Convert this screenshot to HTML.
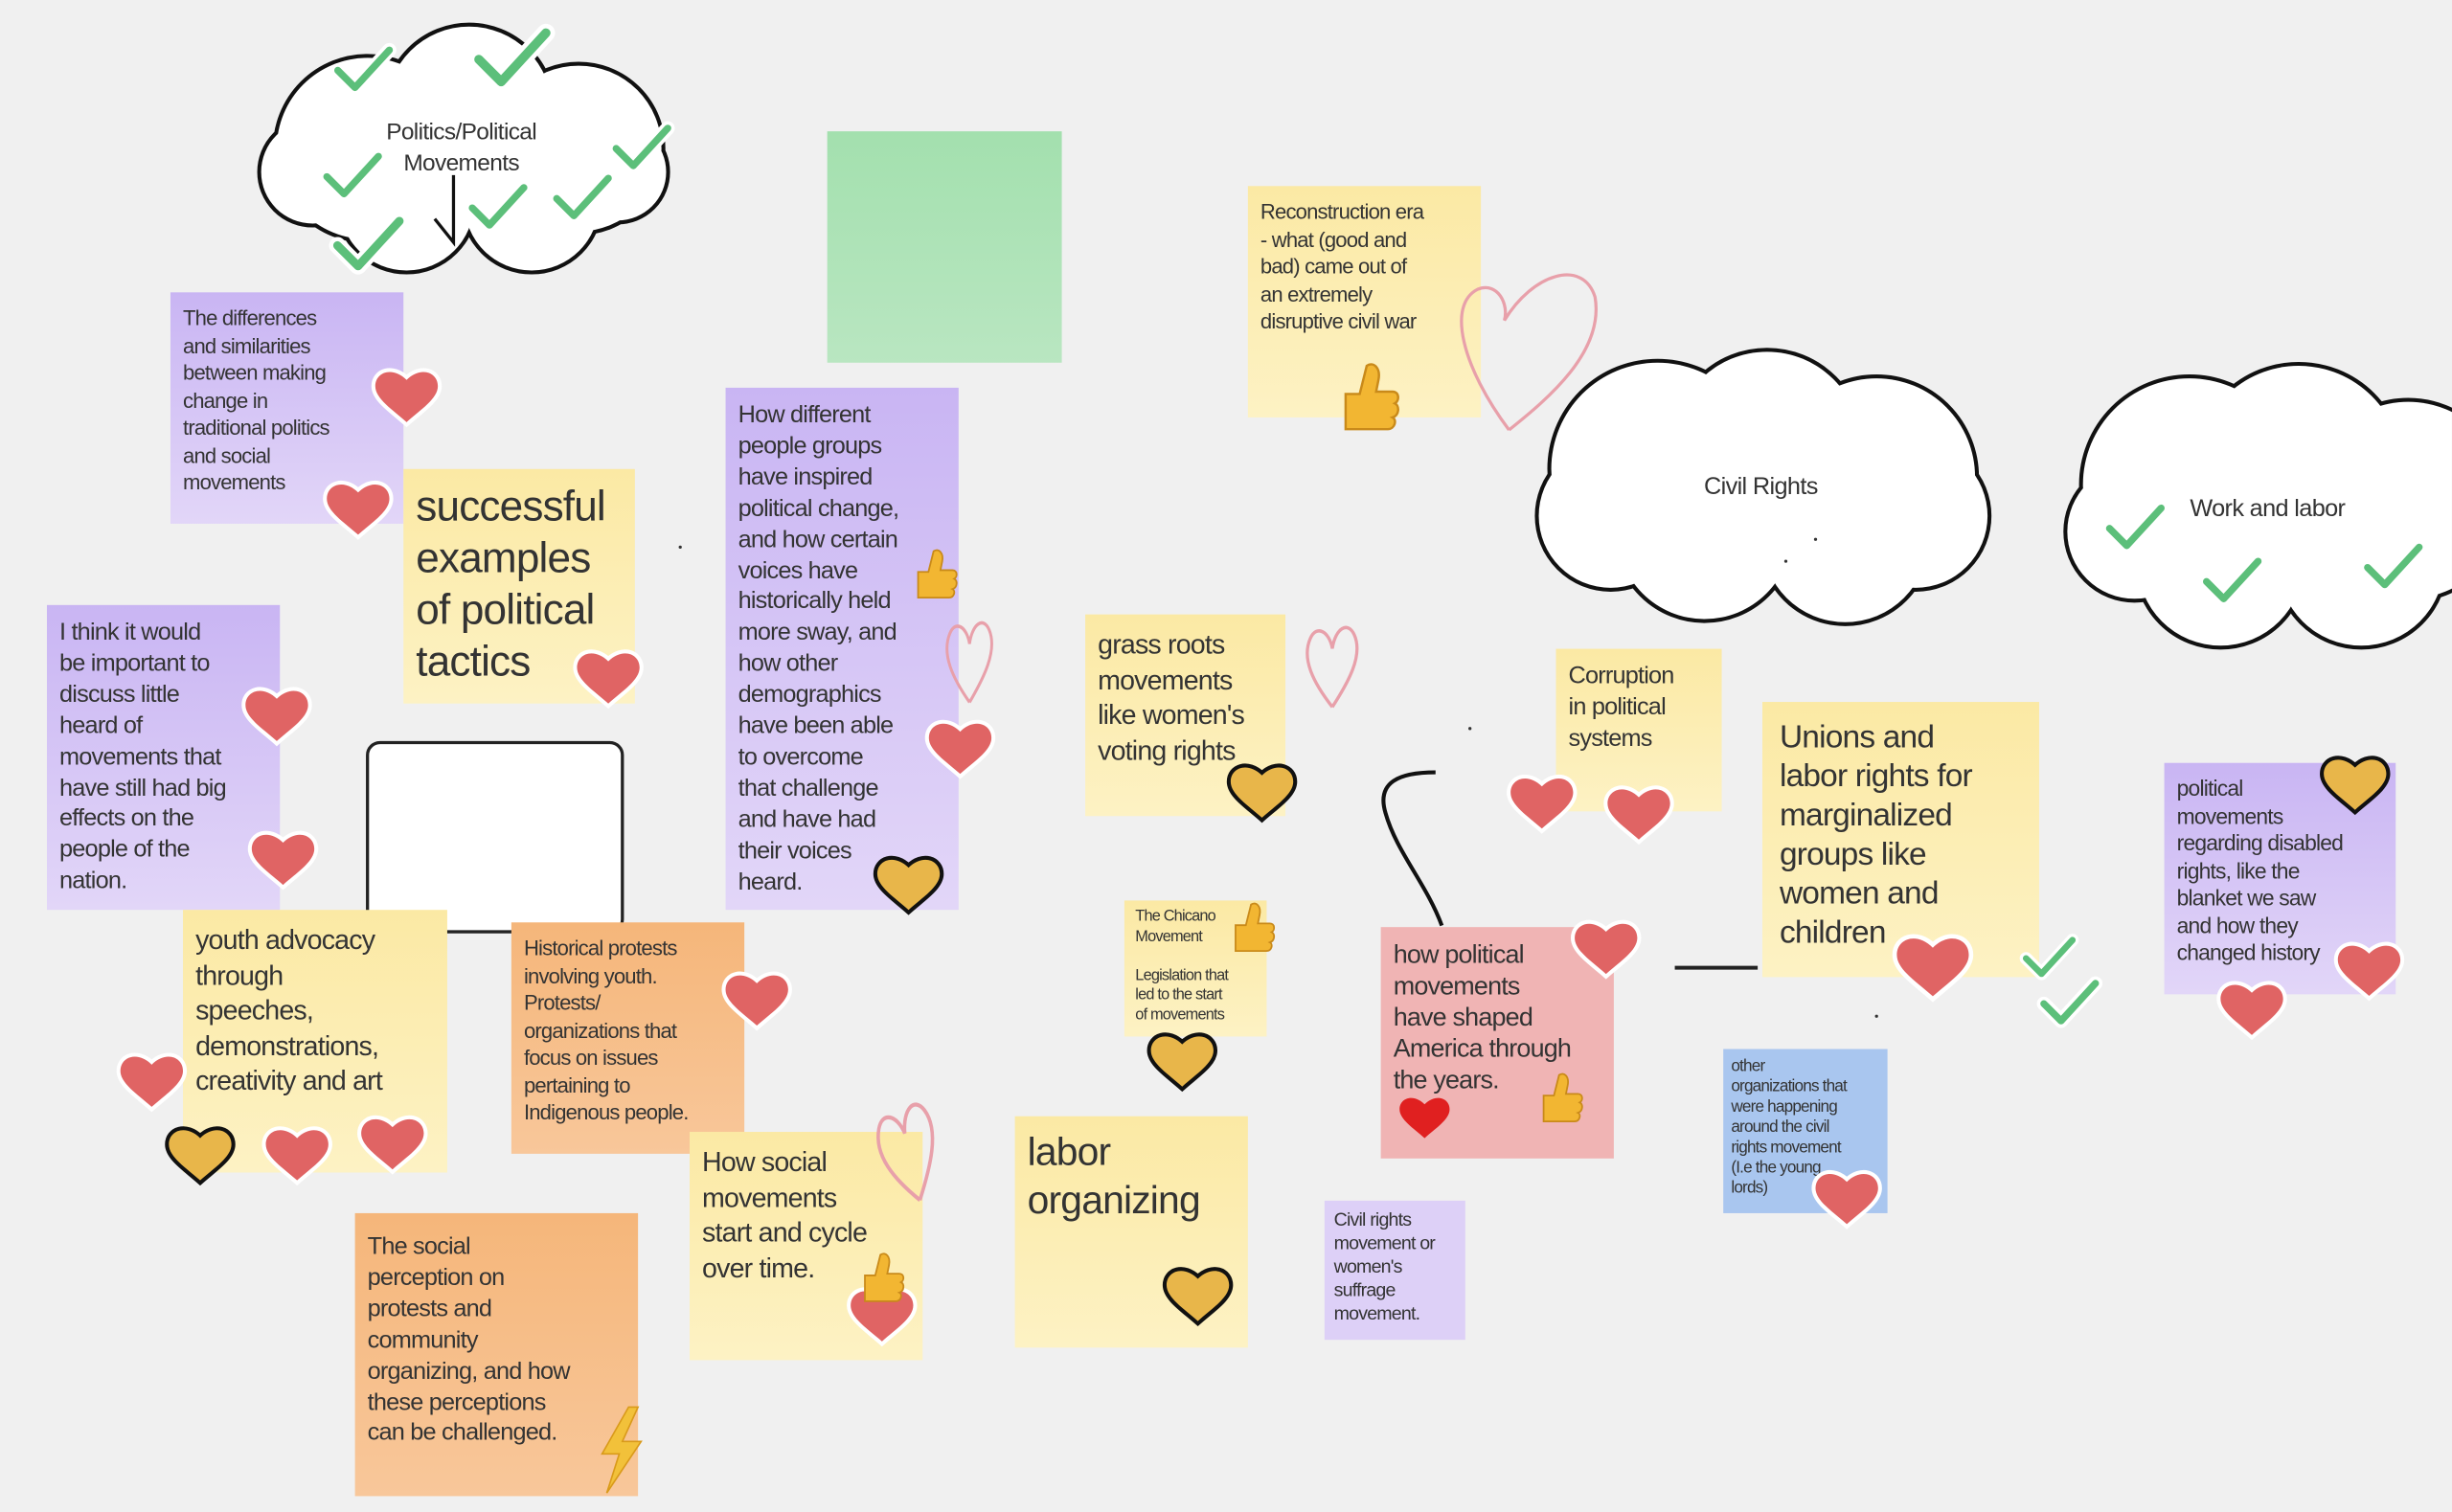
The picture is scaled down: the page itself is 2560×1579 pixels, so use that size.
<!DOCTYPE html>
<html><head><meta charset="utf-8">
<style>
html,body{margin:0;padding:0;background:#f0f0f0;}
#wrap{position:absolute;left:0;top:0;width:1568px;height:967px;transform:scale(1.63265);transform-origin:0 0;overflow:hidden;background:#f0f0f0;font-family:"Liberation Sans","DejaVu Sans",sans-serif;color:#333;}
.n{position:absolute;box-sizing:border-box;padding:8px 8px;letter-spacing:-0.5px;white-space:nowrap;}
.y{background:linear-gradient(#fbe9a4,#fdf2c4);}
.p{background:linear-gradient(#c9b5f3,#e2d6f8);}
.o{background:linear-gradient(#f5b67a,#f8c79a);}
.r{background:#f0b4b4;}
.b{background:#a9c6ef;}
svg{position:absolute;left:0;top:0;}
</style></head><body><div id="wrap">

<div style="position:absolute;left:529px;top:84px;width:150px;height:148px;background:linear-gradient(#a3e0ae,#b9e6c1);"></div>
<div style="position:absolute;left:234px;top:474px;width:165px;height:123px;background:#fff;border:2px solid #222;border-radius:9px;box-sizing:border-box;"></div>

<div class="n y" style="left:798px;top:119px;width:149px;height:148px;font-size:13.5px;line-height:17.5px;">Reconstruction era<br>- what (good and<br>bad) came out of<br>an extremely<br>disruptive civil war</div>
<div class="n p" style="left:109px;top:187px;width:149px;height:148px;font-size:13.5px;line-height:17.5px;">The differences<br>and similarities<br>between making<br>change in<br>traditional politics<br>and social<br>movements</div>
<div class="n y" style="left:258px;top:300px;width:148px;height:150px;font-size:27px;line-height:33px;">successful<br>examples<br>of political<br>tactics</div>
<div class="n p" style="left:464px;top:248px;width:149px;height:334px;font-size:15.5px;line-height:19.9px;">How different<br>people groups<br>have inspired<br>political change,<br>and how certain<br>voices have<br>historically held<br>more sway, and<br>how other<br>demographics<br>have been able<br>to overcome<br>that challenge<br>and have had<br>their voices<br>heard.</div>
<div class="n p" style="left:30px;top:387px;width:149px;height:195px;font-size:15.5px;line-height:19.9px;">I think it would<br>be important to<br>discuss little<br>heard of<br>movements that<br>have still had big<br>effects on the<br>people of the<br>nation.</div>
<div class="n y" style="left:117px;top:582px;width:169px;height:168px;font-size:17.5px;line-height:22.5px;">youth advocacy<br>through<br>speeches,<br>demonstrations,<br>creativity and art</div>
<div class="n o" style="left:327px;top:590px;width:149px;height:148px;font-size:13.5px;line-height:17.5px;">Historical protests<br>involving youth.<br>Protests/<br>organizations that<br>focus on issues<br>pertaining to<br>Indigenous people.</div>
<div class="n o" style="left:227px;top:776px;width:181px;height:181px;font-size:15.5px;line-height:19.9px;padding-top:12px;">The social<br>perception on<br>protests and<br>community<br>organizing, and how<br>these perceptions<br>can be challenged.</div>
<div class="n y" style="left:441px;top:724px;width:149px;height:146px;font-size:17.5px;line-height:22.5px;">How social<br>movements<br>start and cycle<br>over time.</div>
<div class="n y" style="left:694px;top:393px;width:128px;height:129px;font-size:17.5px;line-height:22.5px;">grass roots<br>movements<br>like women's<br>voting rights</div>
<div class="n y" style="left:719px;top:576px;width:91px;height:87px;font-size:10px;line-height:12.5px;padding:5px 7px;">The Chicano<br>Movement<br><br>Legislation that<br>led to the start<br>of movements</div>
<div class="n y" style="left:649px;top:714px;width:149px;height:148px;font-size:25px;line-height:31px;">labor<br>organizing</div>
<div class="n p" style="left:847px;top:768px;width:90px;height:89px;font-size:12px;line-height:15px;padding:5px 6px;background:#ddd0f7;">Civil rights<br>movement or<br>women's<br>suffrage<br>movement.</div>
<div class="n r" style="left:883px;top:593px;width:149px;height:148px;font-size:16.5px;line-height:20px;">how political<br>movements<br>have shaped<br>America through<br>the years.</div>
<div class="n y" style="left:995px;top:415px;width:106px;height:104px;font-size:15.5px;line-height:20px;">Corruption<br>in political<br>systems</div>
<div class="n y" style="left:1127px;top:449px;width:177px;height:176px;font-size:20.5px;line-height:25px;padding:10px 11px;">Unions and<br>labor rights for<br>marginalized<br>groups like<br>women and<br>children</div>
<div class="n b" style="left:1102px;top:671px;width:105px;height:105px;font-size:10.5px;line-height:13px;padding:5px 5px;">other<br>organizations that<br>were happening<br>around the civil<br>rights movement<br>(I.e the young<br>lords)</div>
<div class="n p" style="left:1384px;top:488px;width:148px;height:148px;font-size:14px;line-height:17.5px;">political<br>movements<br>regarding disabled<br>rights, like the<br>blanket we saw<br>and how they<br>changed history</div>

<svg width="1568" height="967" viewBox="0 0 1568 967">
<defs>
<path id="hp" d="M0,15 C-9,7 -20,0 -20,-8 C-20,-17 -9,-21 0,-12 C9,-21 20,-17 20,-8 C20,0 9,7 0,15Z"/>
<g id="rh"><use href="#hp" fill="#e06464" stroke="#fff" stroke-width="5" paint-order="stroke"/></g>
<g id="gh"><use href="#hp" fill="#e8b64a" stroke="#111" stroke-width="5" paint-order="stroke"/></g>
<g id="ck"><path d="M-16,0 L-5,11 L17,-13" fill="none" stroke="#fff" stroke-width="9" stroke-linecap="round" stroke-linejoin="round"/><path d="M-16,0 L-5,11 L17,-13" fill="none" stroke="#5cbf7a" stroke-width="4.5" stroke-linecap="round" stroke-linejoin="round"/></g>
<g id="th"><path d="M-9,-2 L-3,-2 L0,-14 C3,-16 6,-13 5,-8 L4,-3 L11,-3 C14,-3 14,1 12,2 C14,3 14,7 11,8 C13,9 12,13 9,13 L-3,13 L-9,13Z" fill="#f2b632" stroke="#c98a1a" stroke-width="1"/></g>
<g id="ph"><path d="M0,22 C-12,8 -20,-6 -14,-18 C-10,-26 -2,-22 0,-12 C2,-24 10,-28 14,-20 C20,-8 10,8 0,22" fill="none" stroke="#e8a0aa" stroke-width="2"/></g>
</defs>

<g stroke="#111" stroke-width="5" fill="#111">
<circle cx="235" cy="95" r="58"/><circle cx="300" cy="70" r="53"/><circle cx="370" cy="95" r="53"/><circle cx="260" cy="130" r="43"/><circle cx="340" cy="130" r="43"/><circle cx="200" cy="110" r="33"/><circle cx="395" cy="110" r="31"/>
<circle cx="1060" cy="300" r="68"/><circle cx="1130" cy="285" r="60"/><circle cx="1200" cy="305" r="63"/><circle cx="1090" cy="340" r="56"/><circle cx="1180" cy="345" r="53"/><circle cx="1030" cy="330" r="46"/><circle cx="1225" cy="330" r="46"/>
<circle cx="1400" cy="310" r="68"/><circle cx="1470" cy="300" r="66"/><circle cx="1540" cy="320" r="63"/><circle cx="1420" cy="360" r="53"/><circle cx="1510" cy="360" r="53"/><circle cx="1365" cy="340" r="43"/>
</g>
<g fill="#fff">
<circle cx="235" cy="95" r="58"/><circle cx="300" cy="70" r="53"/><circle cx="370" cy="95" r="53"/><circle cx="260" cy="130" r="43"/><circle cx="340" cy="130" r="43"/><circle cx="200" cy="110" r="33"/><circle cx="395" cy="110" r="31"/>
<circle cx="1060" cy="300" r="68"/><circle cx="1130" cy="285" r="60"/><circle cx="1200" cy="305" r="63"/><circle cx="1090" cy="340" r="56"/><circle cx="1180" cy="345" r="53"/><circle cx="1030" cy="330" r="46"/><circle cx="1225" cy="330" r="46"/>
<circle cx="1400" cy="310" r="68"/><circle cx="1470" cy="300" r="66"/><circle cx="1540" cy="320" r="63"/><circle cx="1420" cy="360" r="53"/><circle cx="1510" cy="360" r="53"/><circle cx="1365" cy="340" r="43"/>
</g>
<g font-family="Liberation Sans, sans-serif" fill="#333" text-anchor="middle" letter-spacing="-0.4">
<text x="295" y="89" font-size="15">Politics/Political</text>
<text x="295" y="109" font-size="15">Movements</text>
<text x="1126" y="316" font-size="15.5">Civil Rights</text>
<text x="1450" y="330" font-size="15.5">Work and labor</text>
</g>
<path d="M290,112 L290,155 L278,140" fill="none" stroke="#111" stroke-width="2"/>

<path d="M918,494 C895,494 880,500 886,520 C893,545 912,565 922,592" fill="none" stroke="#111" stroke-width="2.5"/>
<line x1="1071" y1="619" x2="1124" y2="619" stroke="#222" stroke-width="2.5"/>

<use href="#ck" transform="translate(232,45) scale(1.0)"/>
<use href="#ck" transform="translate(327,38) scale(1.3)"/>
<use href="#ck" transform="translate(225,113)"/>
<use href="#ck" transform="translate(318,133)"/>
<use href="#ck" transform="translate(372,127)"/>
<use href="#ck" transform="translate(410,95)"/>
<use href="#ck" transform="translate(235,157) scale(1.2)"/>
<use href="#ck" transform="translate(1365,338)"/>
<use href="#ck" transform="translate(1427,372)"/>
<use href="#ck" transform="translate(1530,363)"/>
<use href="#ck" transform="translate(1310,613) scale(0.9)"/>
<use href="#ck" transform="translate(1323,642)"/>

<path d="M965,275 C935,235 925,195 945,185 C958,180 965,195 962,205 C980,175 1012,165 1020,190 C1026,225 990,255 965,275" fill="none" stroke="#e8a0aa" stroke-width="2"/>
<use href="#ph" transform="translate(620,425) scale(0.9,1.1)"/>
<use href="#ph" transform="translate(852,428) scale(1,1.1)"/>
<use href="#ph" transform="translate(582,740) scale(1.1,1.3) rotate(-15)"/>

<use href="#rh" transform="translate(260,255)"/>
<use href="#rh" transform="translate(229,327)"/>
<use href="#rh" transform="translate(389,435)"/>
<use href="#rh" transform="translate(177,459)"/>
<use href="#rh" transform="translate(181,551)"/>
<use href="#rh" transform="translate(614,480)"/>
<use href="#rh" transform="translate(97,693)"/>
<use href="#rh" transform="translate(190,740)"/>
<use href="#rh" transform="translate(251,733)"/>
<use href="#rh" transform="translate(484,641)"/>
<use href="#rh" transform="translate(564,843)"/>
<use href="#rh" transform="translate(1027,608)"/>
<use href="#rh" transform="translate(986,515)"/>
<use href="#rh" transform="translate(1048,522)"/>
<use href="#rh" transform="translate(1236,620) scale(1.15)"/>
<use href="#rh" transform="translate(1181,768)"/>
<use href="#rh" transform="translate(1515,622)"/>
<use href="#rh" transform="translate(1440,647)"/>
<path transform="translate(911,716) scale(0.8)" d="M0,15 C-9,7 -20,0 -20,-8 C-20,-17 -9,-21 0,-12 C9,-21 20,-17 20,-8 C20,0 9,7 0,15Z" fill="#e02020"/>

<use href="#gh" transform="translate(581,567)"/>
<use href="#gh" transform="translate(128,740)"/>
<use href="#gh" transform="translate(807,508)"/>
<use href="#gh" transform="translate(756,680)"/>
<use href="#gh" transform="translate(766,830)"/>
<use href="#gh" transform="translate(1506,503)"/>

<use href="#th" transform="translate(874,255) scale(1.5)"/>
<use href="#th" transform="translate(597,368) scale(1.1)"/>
<use href="#th" transform="translate(563,818) scale(1.1)"/>
<use href="#th" transform="translate(800,594) scale(1.1)"/>
<use href="#th" transform="translate(997,703) scale(1.1)"/>

<path d="M402,900 L385,930 L396,930 L388,955 L410,922 L398,922 L408,900Z" fill="#f2c13a" stroke="#d99a1a" stroke-width="1"/>
<circle cx="435" cy="350" r="1" fill="#333"/><circle cx="940" cy="466" r="1" fill="#333"/><circle cx="1161" cy="345" r="1" fill="#333"/><circle cx="1142" cy="359" r="1" fill="#333"/><circle cx="1200" cy="650" r="1" fill="#333"/>
</svg>
</div></body></html>
